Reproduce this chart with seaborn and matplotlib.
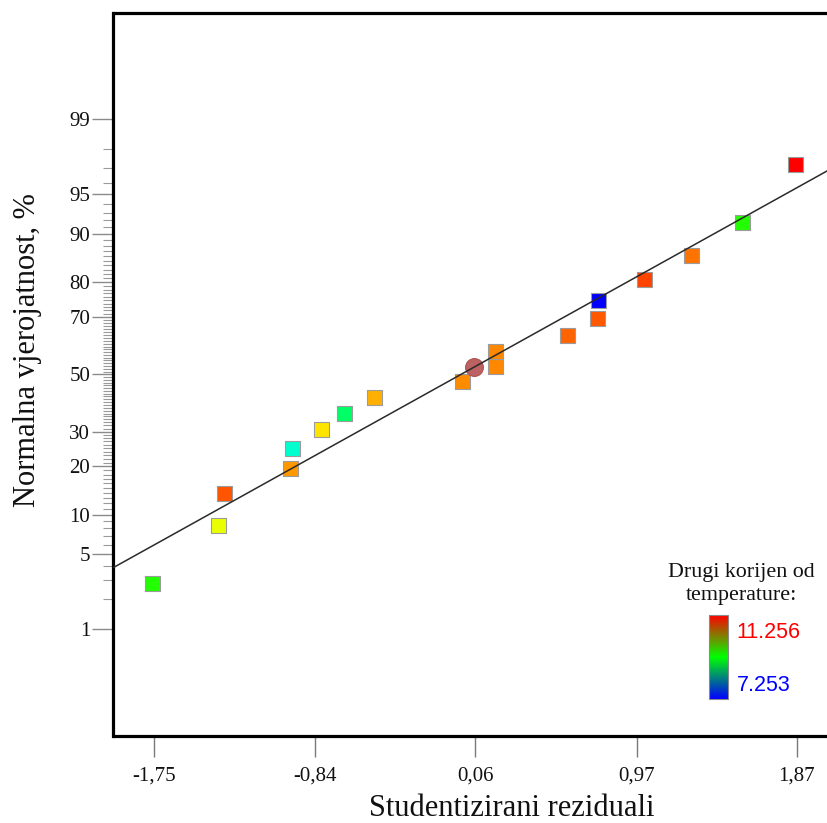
import math
import numpy as np
import pandas as pd
import matplotlib
matplotlib.use("Agg")
import matplotlib.pyplot as plt
import matplotlib.colors as mcolors
import matplotlib.cm as mcm
from matplotlib.ticker import FixedLocator, FixedFormatter, NullFormatter
import seaborn as sns

# ---------------- data ----------------
residuals = [-1.756, -1.385, -1.351, -0.979, -0.970, -0.808, -0.677, -0.508, -0.012,
             0.174, 0.174, 0.580, 0.748, 0.757, 1.015, 1.278, 1.566, 1.864]
probability_pct = [2.78, 8.33, 13.89, 19.44, 25.00, 30.56, 36.11, 41.67, 47.22,
                   52.78, 58.33, 63.89, 69.44, 75.00, 80.56, 86.11, 91.67, 97.22]
sqrt_temperature = [9.387, 10.163, 10.924, 10.656, 8.454, 10.355, 8.854, 10.555, 10.706,
                    10.724, 10.724, 10.856, 10.906, 7.253, 10.988, 10.788, 9.387, 11.256]
highlight_residual = [0.053]
highlight_pct = [52.78]
fit_slope = 0.9007       # normal score per unit residual
fit_intercept = 0.017
color_min, color_max = 7.253, 11.256
x_tick_values = [-1.75, -0.84, 0.06, 0.97, 1.87]
x_tick_labels = ["-1,75", "-0,84", "0,06", "0,97", "1,87"]
y_major_ticks = [1, 5, 10, 20, 30, 50, 70, 80, 90, 95, 99]
y_minor_ticks = [p for p in range(2, 99) if p not in y_major_ticks]
x_limits = (-1.978, 2.16)
z_limits = (-3.303, 3.294)

# ---------------- normal probability scale helpers ----------------
_erf = np.vectorize(math.erf, otypes=[float])

def norm_cdf(z):
    z = np.asarray(z, dtype=float)
    return 0.5 * (1.0 + _erf(z / math.sqrt(2.0)))

_a = [-3.969683028665376e+01, 2.209460984245205e+02, -2.759285104469687e+02,
      1.383577518672690e+02, -3.066479806614716e+01, 2.506628277459239e+00]
_b = [-5.447609879822406e+01, 1.615858368580409e+02, -1.556989798598866e+02,
      6.680131188771972e+01, -1.328068155288572e+01]
_c = [-7.784894002430293e-03, -3.223964580411365e-01, -2.400758277161838e+00,
      -2.549732539343734e+00, 4.374664141464968e+00, 2.938163982698783e+00]
_d = [7.784695709041462e-03, 3.224671290700398e-01, 2.445134137142996e+00,
      3.754408661907416e+00]

def norm_ppf(p):
    p = np.clip(np.asarray(p, dtype=float), 1e-12, 1 - 1e-12)
    plow = 0.02425
    with np.errstate(all="ignore"):
        q = np.sqrt(-2 * np.log(p))
        xl = (((((_c[0]*q+_c[1])*q+_c[2])*q+_c[3])*q+_c[4])*q+_c[5]) / \
             ((((_d[0]*q+_d[1])*q+_d[2])*q+_d[3])*q+1)
        qu = np.sqrt(-2 * np.log(1 - p))
        xu = -(((((_c[0]*qu+_c[1])*qu+_c[2])*qu+_c[3])*qu+_c[4])*qu+_c[5]) / \
              ((((_d[0]*qu+_d[1])*qu+_d[2])*qu+_d[3])*qu+1)
        qc = p - 0.5
        r = qc * qc
        xc = (((((_a[0]*r+_a[1])*r+_a[2])*r+_a[3])*r+_a[4])*r+_a[5])*qc / \
             (((((_b[0]*r+_b[1])*r+_b[2])*r+_b[3])*r+_b[4])*r+1)
    return np.where(p < plow, xl, np.where(p > 1 - plow, xu, xc))

def pct_forward(v):
    return norm_ppf(np.asarray(v, dtype=float) / 100.0)

def pct_inverse(z):
    return norm_cdf(z) * 100.0

# ---------------- figure ----------------
sns.set_theme(style="white")
plt.rcParams["font.family"] = ["Liberation Serif", "DejaVu Serif"]

W, H = 828, 823
fig = plt.figure(figsize=(W / 100, H / 100), dpi=100)
ax_left, ax_right, ax_top, ax_bottom = 113.5, 848.0, 13.5, 736.0
ax = fig.add_axes([ax_left / W, (H - ax_bottom) / H,
                   (ax_right - ax_left) / W, (ax_bottom - ax_top) / H])
ax.set_yscale("function", functions=(pct_forward, pct_inverse))

df = pd.DataFrame({"residual": residuals, "pct": probability_pct, "temp": sqrt_temperature})
point_cmap = mcolors.LinearSegmentedColormap.from_list(
    "hue_rainbow", [mcolors.hsv_to_rgb((h / 360.0, 1.0, 1.0)) for h in np.linspace(240, 0, 256)])

sns.scatterplot(data=df, x="residual", y="pct", hue="temp", palette=point_cmap,
                hue_norm=(color_min, color_max), marker="s", s=116,
                edgecolor="#9c9c9c", linewidth=0.8, legend=False, ax=ax, zorder=3)
sns.scatterplot(x=highlight_residual, y=highlight_pct, color="#b95a5a", marker="o", s=165,
                edgecolor="#a85050", linewidth=0.8, alpha=0.95, legend=False, ax=ax, zorder=3)

# fitted normal line
xl = np.array(x_limits)
ax.plot(xl, pct_inverse(fit_slope * xl + fit_intercept), color="#2a2a2a", lw=1.1, zorder=4)

ax.set_xlim(*x_limits)
ax.set_ylim(float(pct_inverse(z_limits[0])), float(pct_inverse(z_limits[1])))

# ticks
ax.xaxis.set_major_locator(FixedLocator(x_tick_values))
ax.xaxis.set_major_formatter(FixedFormatter(x_tick_labels))
ax.yaxis.set_major_locator(FixedLocator(y_major_ticks))
ax.yaxis.set_major_formatter(FixedFormatter([str(t) for t in y_major_ticks]))
ax.yaxis.set_minor_locator(FixedLocator(y_minor_ticks))
ax.yaxis.set_minor_formatter(NullFormatter())
ax.tick_params(axis="x", which="major", direction="out", length=15, width=1.0,
               color="#7a7a7a", labelsize=15, pad=7, labelcolor="#111111", bottom=True)
ax.tick_params(axis="y", which="major", direction="out", length=14.8, width=1.0,
               color="#8a8a8a", labelsize=15, pad=2, labelcolor="#111111", left=True)
ax.tick_params(axis="y", which="minor", direction="out", length=7.5, width=0.8,
               color="#9a9a9a", left=True)

for side in ["left", "top", "bottom", "right"]:
    ax.spines[side].set_color("black")
    ax.spines[side].set_linewidth(2.3)
ax.grid(False)
ax.set_facecolor("white")

ax.set_xlabel("Studentizirani reziduali", fontsize=22, color="#111111")
ax.xaxis.label.set_verticalalignment("baseline")
ax.xaxis.set_label_coords((512 - ax_left) / (ax_right - ax_left),
                          (ax_bottom - 815.5) / (ax_bottom - ax_top))
ax.set_ylabel("Normalna vjerojatnost, %", fontsize=22, color="#111111")
ax.yaxis.label.set_verticalalignment("baseline")
ax.yaxis.set_label_coords((35 - ax_left) / (ax_right - ax_left),
                          (ax_bottom - 350) / (ax_bottom - ax_top))

# colour legend
cbar_cmap = mcolors.LinearSegmentedColormap.from_list("bgr", ["#0000ff", "#00ff00", "#ff0000"])
cax = fig.add_axes([709 / W, (H - 699) / H, 19 / W, 84 / H])
sm = mcm.ScalarMappable(norm=mcolors.Normalize(color_min, color_max), cmap=cbar_cmap)
cb = fig.colorbar(sm, cax=cax)
cb.set_ticks([])
cb.outline.set_edgecolor("#8a8a8a")
cb.outline.set_linewidth(0.8)

fig.text(741.5 / W, 1 - 577.5 / H, "Drugi korijen od", fontsize=15.8, ha="center",
         va="baseline", color="#111111")
fig.text(741.5 / W, 1 - 600 / H, "temperature:", fontsize=15.8, ha="center",
         va="baseline", color="#111111")
fig.text(736.5 / W, 1 - 633 / H, f"{color_max:.3f}", fontsize=15.5, ha="left", va="center",
         color="#ff0000", family=["Liberation Sans", "DejaVu Sans"])
fig.text(736.5 / W, 1 - 685.5 / H, f"{color_min:.3f}", fontsize=15.5, ha="left", va="center",
         color="#0000ff", family=["Liberation Sans", "DejaVu Sans"])

fig.savefig("out.png", dpi=100)
